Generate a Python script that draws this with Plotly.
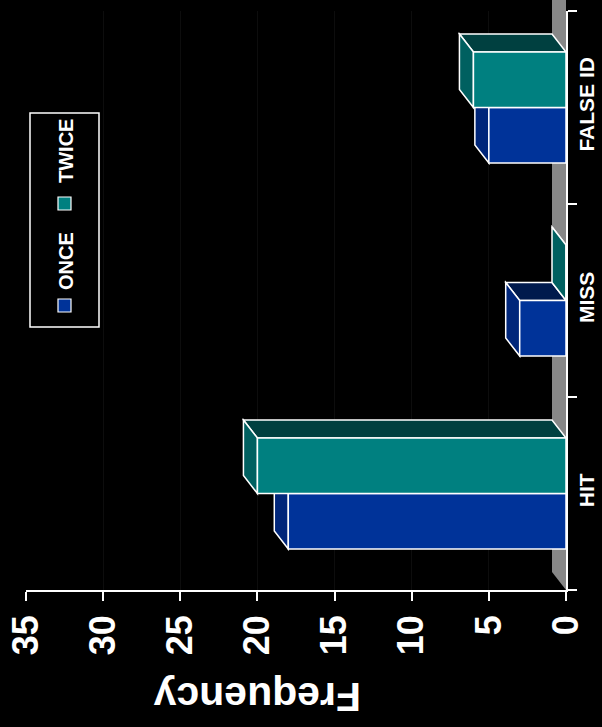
import plotly.graph_objects as go

# ---------------- data ----------------
categories = ["HIT", "MISS", "FALSE ID"]
series_names = ["ONCE", "TWICE"]
once_values = [18, 3, 5]
twice_values = [20, 0, 6]
x_tick_values = [0, 5, 10, 15, 20, 25, 30, 35]
axis_title = "Frequency"

# ---------------- styling / geometry ----------------
W, H = 602, 727
L, R, T, B = 26, 36, 11, 137
PW, PH = W - L - R, H - T - B
X_MAX = 35
BARGAP = 0.425
BAR_W = (1 - BARGAP) / 2
DEPTH_X_PX, DEPTH_Y_PX = 14, 18
DX = DEPTH_X_PX * X_MAX / PW                 # depth in value units
DY = DEPTH_Y_PX * len(categories) / PH       # depth in category units

FRONT = {"ONCE": "#003399", "TWICE": "#008080"}
TOP = {"ONCE": "#001a4d", "TWICE": "#004040"}
SIDE = {"ONCE": "#00267a", "TWICE": "#006060"}
FONT = "Liberation Sans, Arial, sans-serif"


def px_x(px):
    return (px - L) / PW


def px_y(py):
    return (T + PH - py) / PH


fig = go.Figure()
series = {"ONCE": once_values, "TWICE": twice_values}
for name in series_names:
    fig.add_trace(go.Bar(
        y=categories, x=series[name], name=name, orientation="h",
        marker=dict(color=FRONT[name], line=dict(color="white", width=1.5)),
    ))

shapes = []
# gray floor (3D base)
shapes.append(dict(
    type="path", xref="paper", yref="paper", layer="below",
    path=(f"M 1,0 L {1 - DEPTH_X_PX / PW},{DEPTH_Y_PX / PH} "
          f"L {1 - DEPTH_X_PX / PW},{1 + 2 * DEPTH_Y_PX / PH} L 1,{1 + DEPTH_Y_PX / PH} Z"),
    fillcolor="#878787", line=dict(width=0),
))

# 3D top and end faces of every bar, computed from the data
for s_idx, name in enumerate(series_names):
    offset = -BAR_W if s_idx == 0 else 0.0
    for c, v in enumerate(series[name]):
        y0 = c + offset
        y1 = y0 + BAR_W
        top_path = (f"M 0,{y1} L {v},{y1} L {v + DX},{y1 + DY} L {DX},{y1 + DY} Z")
        side_path = (f"M {v},{y0} L {v},{y1} L {v + DX},{y1 + DY} L {v + DX},{y0 + DY} Z")
        shapes.append(dict(type="path", xref="x", yref="y", layer="between",
                           path=top_path, fillcolor=TOP[name],
                           line=dict(color="white", width=1.5)))
        shapes.append(dict(type="path", xref="x", yref="y", layer="between",
                           path=side_path, fillcolor=SIDE[name],
                           line=dict(color="white", width=1.5)))

# legend box (rotated layout drawn with shapes + annotations)
shapes.append(dict(type="rect", xref="paper", yref="paper", layer="above",
                   x0=px_x(30), x1=px_x(99), y0=px_y(327), y1=px_y(113),
                   fillcolor="black", line=dict(color="white", width=1.5)))
legend_marker_y = {"ONCE": (299, 312), "TWICE": (197, 210)}
legend_text_y = {"ONCE": 261.5, "TWICE": 151.5}
annotations = []
for name in series_names:
    ya, yb = legend_marker_y[name]
    shapes.append(dict(type="rect", xref="paper", yref="paper", layer="above",
                       x0=px_x(58), x1=px_x(71), y0=px_y(yb), y1=px_y(ya),
                       fillcolor=FRONT[name], line=dict(color="white", width=1.2)))
    annotations.append(dict(
        text=name, xref="paper", yref="paper", x=px_x(65.5), y=px_y(legend_text_y[name]),
        showarrow=False, textangle=-90, xanchor="center", yanchor="middle",
        font=dict(family=FONT, size=20, color="white", weight="bold"),
    ))

annotations.append(dict(
    text=axis_title, xref="paper", yref="paper", x=px_x(257), y=px_y(697),
    showarrow=False, textangle=180, xanchor="center", yanchor="middle",
    font=dict(family=FONT, size=41, color="white", weight="bold"),
))

fig.update_layout(
    width=W, height=H,
    margin=dict(l=L, r=R, t=T, b=B, pad=0, autoexpand=False),
    paper_bgcolor="black", plot_bgcolor="black",
    barmode="group", bargap=BARGAP, bargroupgap=0,
    showlegend=False,
    font=dict(family=FONT, color="white"),
    shapes=shapes, annotations=annotations,
    xaxis=dict(
        range=[X_MAX, 0], tickvals=x_tick_values, tickangle=-90,
        tickfont=dict(family=FONT, size=36, color="white", weight="bold"),
        ticks="outside", ticklen=9, tickwidth=1.5, tickcolor="white",
        showline=True, linecolor="white", linewidth=1.5,
        showgrid=True, gridcolor="#0d0d0d", gridwidth=1, zeroline=False,
        automargin=False,
    ),
    yaxis=dict(
        type="category", categoryorder="array", categoryarray=categories,
        range=[-0.5, len(categories) - 0.5], side="right",
        tickson="boundaries", ticks="outside", ticklen=9, tickwidth=1.5, tickcolor="white",
        tickangle=-90, ticklabelstandoff=1,
        tickfont=dict(family=FONT, size=21, color="white", weight="bold"),
        showline=True, linecolor="white", linewidth=1.5,
        showgrid=False, zeroline=False, automargin=False,
    ),
)

fig.write_html("out.html")
